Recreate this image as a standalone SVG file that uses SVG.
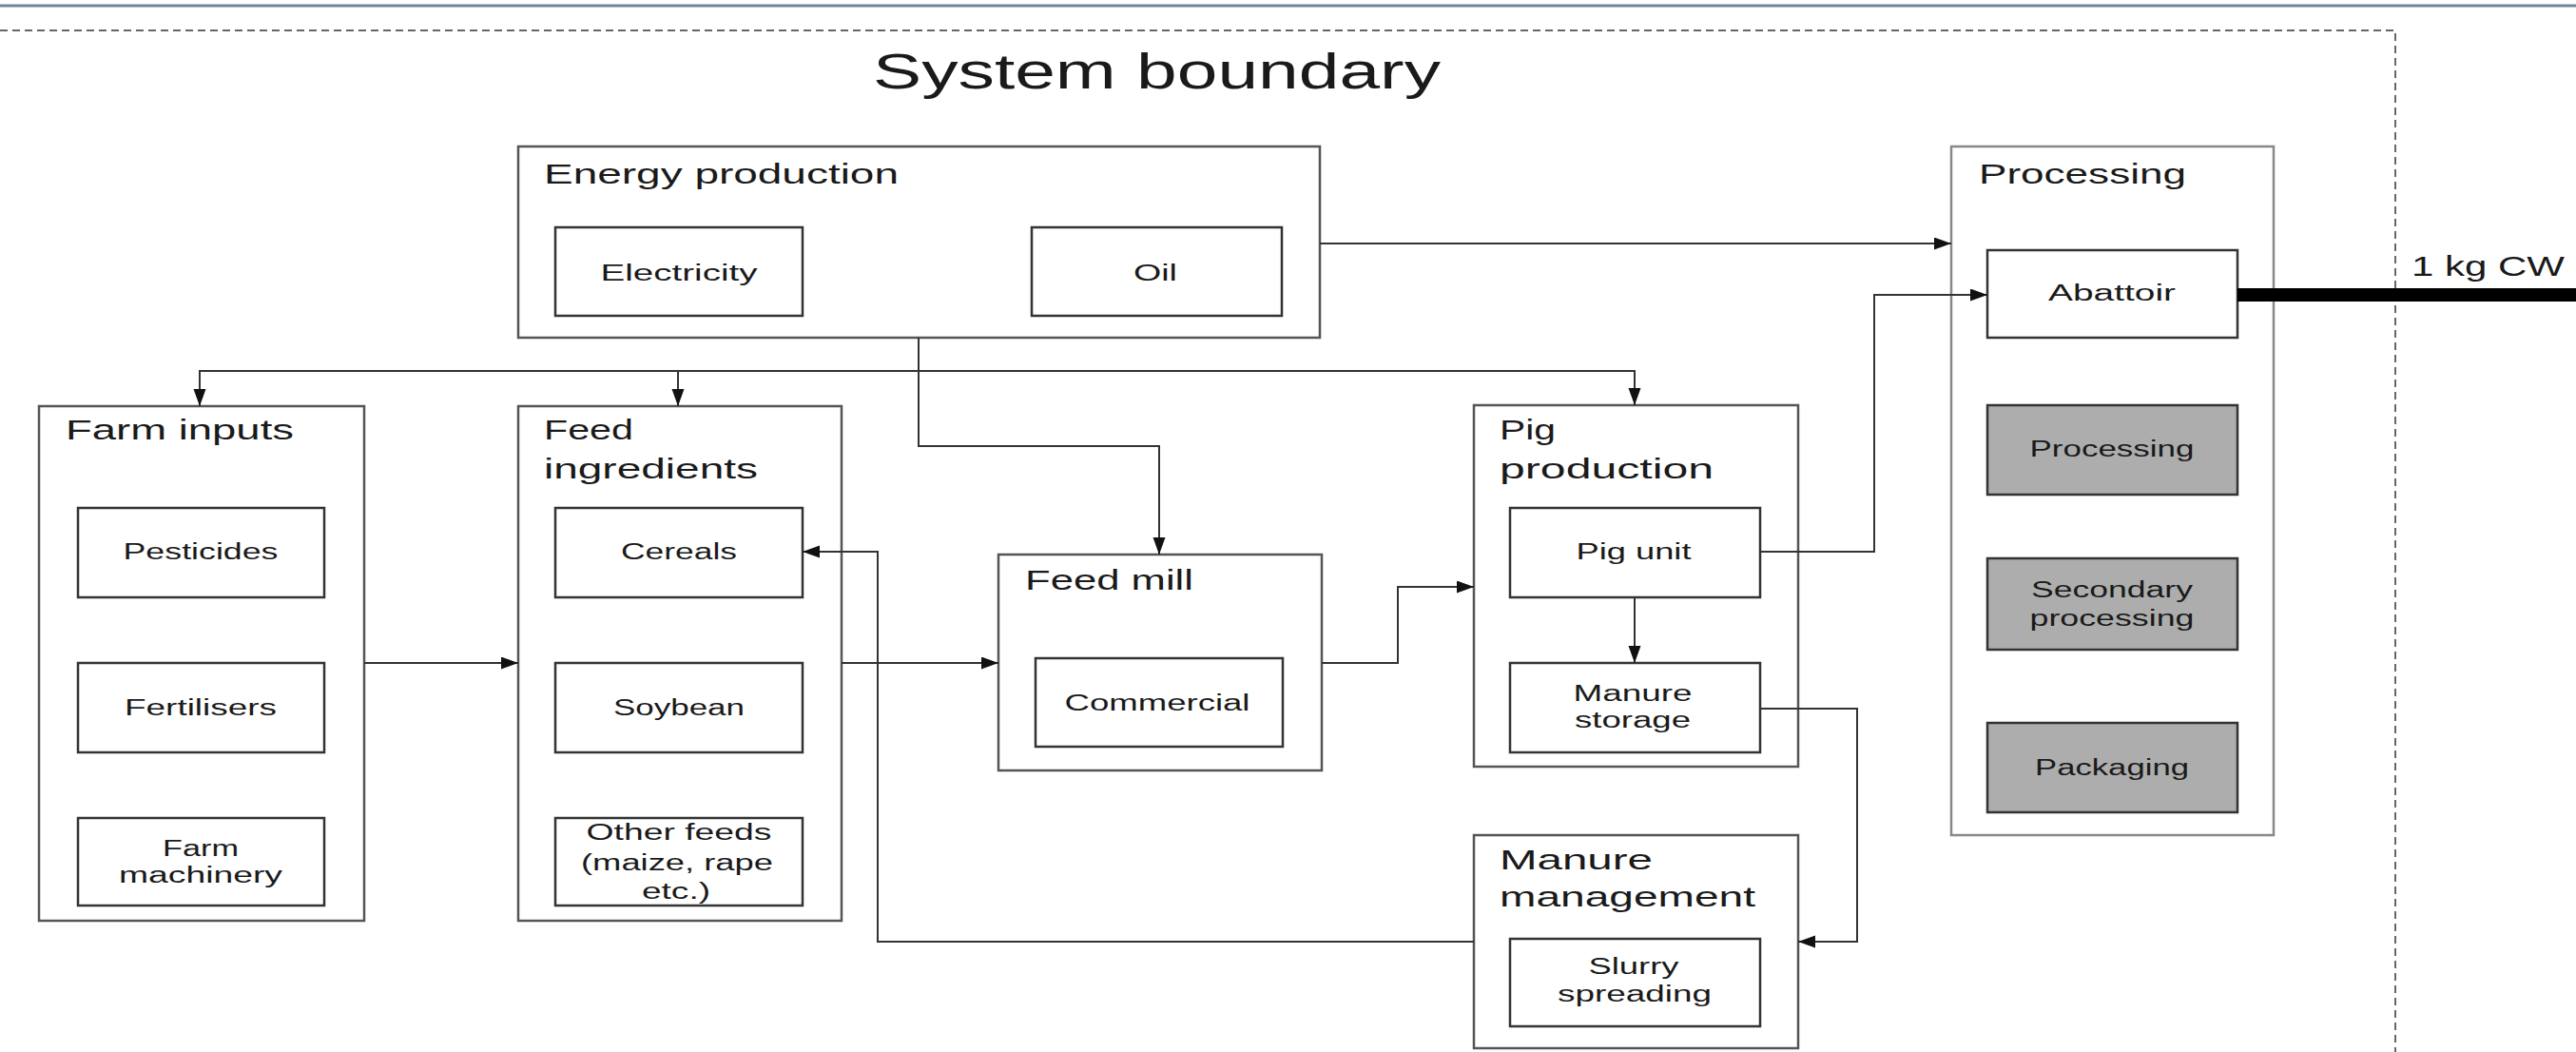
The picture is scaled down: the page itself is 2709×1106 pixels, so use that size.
<svg xmlns="http://www.w3.org/2000/svg" width="2709" height="1106" viewBox="0 0 2709 1106">
<defs>
<style>
text{font-family:"Liberation Sans",Arial,sans-serif;fill:#1a1a1a;}
.t{font-size:29px;}
.i{font-size:23px;text-anchor:middle;}
.big{font-size:51px;}
.ob{fill:#fff;stroke:#555;stroke-width:2.5;}
.ib{fill:#fff;stroke:#333;stroke-width:2.5;}
.gb{fill:#adadad;stroke:#333;stroke-width:2.5;}
.c{fill:none;stroke:#333;stroke-width:2;}
</style>
<marker id="ah" markerUnits="userSpaceOnUse" markerWidth="19" markerHeight="14" refX="18" refY="6.5" orient="auto">
<path d="M0,0 L18,6.5 L0,13 z" fill="#111"/>
</marker>
</defs>
<rect width="2709" height="1106" fill="#fff"/>
<line x1="0" y1="6" x2="2709" y2="6" stroke="#6a8898" stroke-width="3"/>
<g id="system-boundary">
<path d="M0,32 H2519 V1106" fill="none" stroke="#666" stroke-width="2" stroke-dasharray="8 5"/>
<text class="big" x="918" y="93" textLength="597" lengthAdjust="spacingAndGlyphs">System boundary</text>
</g>
<g id="energy-production">
<rect class="ob" x="545" y="154" width="843" height="201"/>
<text class="t" x="572" y="193" textLength="373" lengthAdjust="spacingAndGlyphs">Energy production</text>
</g>
<g id="electricity">
<rect class="ib" x="584" y="239" width="260" height="93"/>
<text class="i" x="714" y="295" textLength="165" lengthAdjust="spacingAndGlyphs">Electricity</text>
</g>
<g id="oil">
<rect class="ib" x="1085" y="239" width="263" height="93"/>
<text class="i" x="1215" y="295" textLength="46" lengthAdjust="spacingAndGlyphs">Oil</text>
</g>
<g id="processing-stage">
<rect x="2052" y="154" width="339" height="724" fill="#fff" stroke="#888" stroke-width="2.5"/>
<text class="t" x="2081" y="193" textLength="218" lengthAdjust="spacingAndGlyphs">Processing</text>
</g>
<g id="abattoir">
<rect class="ib" x="2090" y="263" width="263" height="92"/>
<text class="i" x="2221" y="316" textLength="134" lengthAdjust="spacingAndGlyphs">Abattoir</text>
</g>
<g id="processing">
<rect class="gb" x="2090" y="426" width="263" height="94"/>
<text class="i" x="2221" y="480" textLength="173" lengthAdjust="spacingAndGlyphs">Processing</text>
</g>
<g id="secondary-processing">
<rect class="gb" x="2090" y="587" width="263" height="96"/>
<text class="i" x="2221" y="628" textLength="170" lengthAdjust="spacingAndGlyphs">Secondary</text>
<text class="i" x="2221" y="658" textLength="173" lengthAdjust="spacingAndGlyphs">processing</text>
</g>
<g id="packaging">
<rect class="gb" x="2090" y="760" width="263" height="94"/>
<text class="i" x="2221" y="815" textLength="162" lengthAdjust="spacingAndGlyphs">Packaging</text>
</g>
<g id="output-label">
<text class="t" x="2536" y="290" textLength="161" lengthAdjust="spacingAndGlyphs">1 kg CW</text>
</g>
<g id="farm-inputs">
<rect class="ob" x="41" y="427" width="342" height="541"/>
<text class="t" x="69" y="462" textLength="240" lengthAdjust="spacingAndGlyphs">Farm inputs</text>
</g>
<g id="pesticides">
<rect class="ib" x="82" y="534" width="259" height="94"/>
<text class="i" x="211" y="588" textLength="163" lengthAdjust="spacingAndGlyphs">Pesticides</text>
</g>
<g id="fertilisers">
<rect class="ib" x="82" y="697" width="259" height="94"/>
<text class="i" x="211" y="752" textLength="160" lengthAdjust="spacingAndGlyphs">Fertilisers</text>
</g>
<g id="farm-machinery">
<rect class="ib" x="82" y="860" width="259" height="92"/>
<text class="i" x="211" y="900" textLength="80" lengthAdjust="spacingAndGlyphs">Farm</text>
<text class="i" x="211" y="928" textLength="172" lengthAdjust="spacingAndGlyphs">machinery</text>
</g>
<g id="feed-ingredients">
<rect class="ob" x="545" y="427" width="340" height="541"/>
<text class="t" x="572" y="462" textLength="94" lengthAdjust="spacingAndGlyphs">Feed</text>
<text class="t" x="572" y="503" textLength="225" lengthAdjust="spacingAndGlyphs">ingredients</text>
</g>
<g id="cereals">
<rect class="ib" x="584" y="534" width="260" height="94"/>
<text class="i" x="714" y="588" textLength="122" lengthAdjust="spacingAndGlyphs">Cereals</text>
</g>
<g id="soybean">
<rect class="ib" x="584" y="697" width="260" height="94"/>
<text class="i" x="714" y="752" textLength="138" lengthAdjust="spacingAndGlyphs">Soybean</text>
</g>
<g id="other-feeds">
<rect class="ib" x="584" y="860" width="260" height="92"/>
<text class="i" x="714" y="883" textLength="195" lengthAdjust="spacingAndGlyphs">Other feeds</text>
<text class="i" x="712" y="915" textLength="202" lengthAdjust="spacingAndGlyphs">(maize, rape</text>
<text class="i" x="711" y="945" textLength="72" lengthAdjust="spacingAndGlyphs">etc.)</text>
</g>
<g id="feed-mill">
<rect class="ob" x="1050" y="583" width="340" height="227"/>
<text class="t" x="1078" y="620" textLength="177" lengthAdjust="spacingAndGlyphs">Feed mill</text>
</g>
<g id="commercial">
<rect class="ib" x="1089" y="692" width="260" height="93"/>
<text class="i" x="1217" y="747" textLength="195" lengthAdjust="spacingAndGlyphs">Commercial</text>
</g>
<g id="pig-production">
<rect class="ob" x="1550" y="426" width="341" height="380"/>
<text class="t" x="1577" y="462" textLength="59" lengthAdjust="spacingAndGlyphs">Pig</text>
<text class="t" x="1577" y="503" textLength="225" lengthAdjust="spacingAndGlyphs">production</text>
</g>
<g id="pig-unit">
<rect class="ib" x="1588" y="534" width="263" height="94"/>
<text class="i" x="1718" y="588" textLength="121" lengthAdjust="spacingAndGlyphs">Pig unit</text>
</g>
<g id="manure-storage">
<rect class="ib" x="1588" y="697" width="263" height="94"/>
<text class="i" x="1717" y="737" textLength="125" lengthAdjust="spacingAndGlyphs">Manure</text>
<text class="i" x="1717" y="765" textLength="122" lengthAdjust="spacingAndGlyphs">storage</text>
</g>
<g id="manure-management">
<rect class="ob" x="1550" y="878" width="341" height="224"/>
<text class="t" x="1577" y="914" textLength="161" lengthAdjust="spacingAndGlyphs">Manure</text>
<text class="t" x="1577" y="953" textLength="269" lengthAdjust="spacingAndGlyphs">management</text>
</g>
<g id="slurry-spreading">
<rect class="ib" x="1588" y="987" width="263" height="92"/>
<text class="i" x="1718" y="1024" textLength="95" lengthAdjust="spacingAndGlyphs">Slurry</text>
<text class="i" x="1719" y="1053" textLength="162" lengthAdjust="spacingAndGlyphs">spreading</text>
</g>
<g id="connectors">
<path class="c" d="M1388,256 H2052" marker-end="url(#ah)"/>
<path class="c" d="M966,355 V469 H1219 V583" marker-end="url(#ah)"/>
<path class="c" d="M966,390 H210 V427" marker-end="url(#ah)"/>
<path class="c" d="M966,390 H1719 V426" marker-end="url(#ah)"/>
<path class="c" d="M713,390 V427" marker-end="url(#ah)"/>
<path class="c" d="M383,697 H545" marker-end="url(#ah)"/>
<path class="c" d="M885,697 H1050" marker-end="url(#ah)"/>
<path class="c" d="M1390,697 H1470 V617 H1550" marker-end="url(#ah)"/>
<path class="c" d="M1719,628 V697" marker-end="url(#ah)"/>
<path class="c" d="M1851,580 H1971 V310 H2090" marker-end="url(#ah)"/>
<path class="c" d="M1851,745 H1953 V990 H1891" marker-end="url(#ah)"/>
<path class="c" d="M1550,990 H923 V580 H844" marker-end="url(#ah)"/>
<path d="M2353,310 H2709" stroke="#000" stroke-width="14" fill="none"/>
</g>
</svg>
